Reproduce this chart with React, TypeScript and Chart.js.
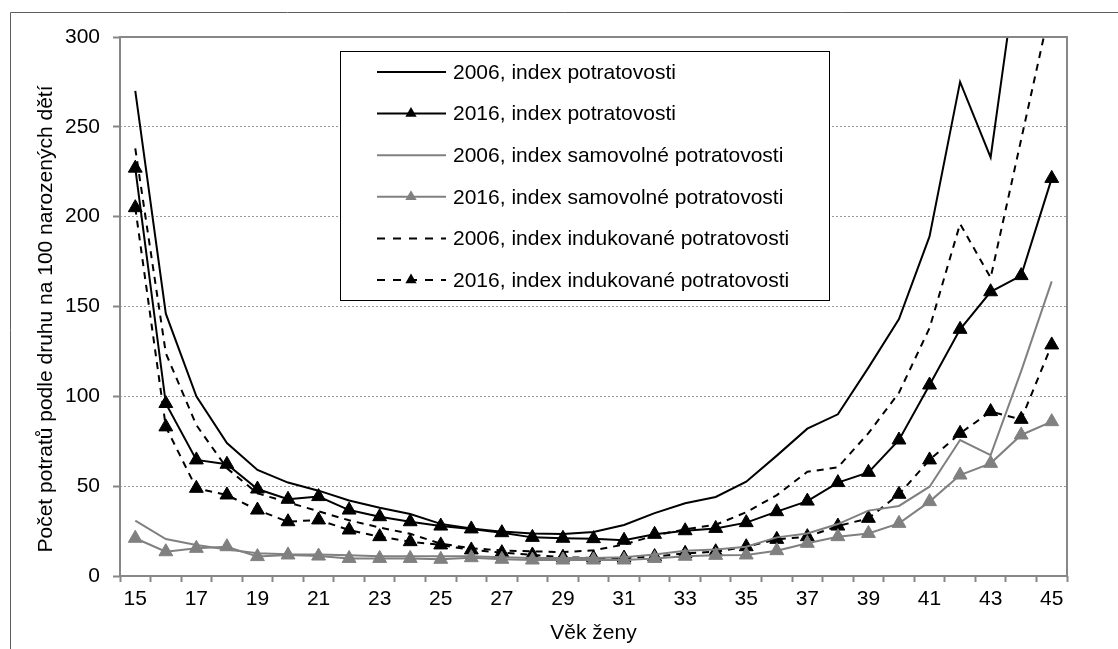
import React, { useEffect, useRef } from 'react';
import { Chart, registerables } from 'chart.js';

Chart.register(...registerables);

const ages = ['15','16','17','18','19','20','21','22','23','24','25','26','27','28','29','30','31','32','33','34','35','36','37','38','39','40','41','42','43','44','45'];

const total2006 = [270, 146, 100, 74, 59, 52, 47.5, 42, 38, 34.5, 29, 26.5, 24.7, 23.7, 23.4, 24.5, 28.4, 35, 40.5, 44, 52.5, 67, 82, 90, 116, 143, 189, 275, 233, 355, 420];
const total2016 = [227, 96, 64.6, 62.2, 48.4, 42.7, 44.2, 36.7, 33, 30.2, 27.8, 26.2, 24.1, 21.5, 21, 20.8, 19.9, 23.2, 25.2, 26.5, 29.7, 35.8, 41.7, 52, 57.7, 75.7, 106.3, 137.3, 158.2, 167.2, 221.3];
const spont2006 = [30.8, 20.6, 17.3, 14.8, 12.6, 12.1, 12, 11.5, 11, 11, 11, 11, 10.5, 10, 10, 10, 10.5, 12, 14, 14.8, 16.3, 21.5, 23.7, 28.9, 36.4, 39, 49.7, 75.7, 67.3, 114, 164];
const spont2016 = [21, 13.5, 15.4, 16.3, 10.8, 11.7, 11.1, 9.8, 9.8, 9.8, 9.3, 10.2, 9.3, 8.9, 8.9, 8.9, 8.9, 9.8, 11, 11.5, 11.7, 14.1, 18.2, 21.9, 23.7, 29.3, 41.4, 56.2, 62.7, 78.5, 85.9];
const induced2006 = [238, 124, 84, 60, 46, 41, 36, 31, 27, 23.5, 18, 15.5, 14.2, 13.7, 13.3, 14.3, 17.5, 22.5, 26, 28.5, 35.5, 45, 58, 60.5, 79.5, 102, 138, 196, 166, 243, 320];
const induced2016 = [205, 83, 48.8, 45.1, 36.7, 30.2, 31.2, 25.6, 21.9, 19.1, 17.3, 14.5, 13, 11.7, 10.5, 10, 10, 10.8, 12.6, 13.5, 16.3, 20.4, 21.9, 27.8, 32.1, 45.5, 64.6, 79.4, 91.5, 87.2, 128.6];

const yTicks = [0, 50, 100, 150, 200, 250, 300];

const seriesLabels = [
  '2006, index potratovosti',
  '2016, index potratovosti',
  '2006, index samovolné potratovosti',
  '2016, index samovolné potratovosti',
  '2006, index indukované potratovosti',
  '2016, index indukované potratovosti',
];

const yTitle = 'Počet potratů podle druhu na 100 narozených dětí';
const xTitle = 'Věk ženy';

const FONT = "'Liberation Sans', Arial, sans-serif";
const FSIZE = 21;
const GREY = '#808080';
const AXIS = '#878787';

const framePlugin = {
  id: 'framePlugin',
  beforeDraw(chart: any) {
    const ctx = chart.ctx;
    ctx.save();
    ctx.fillStyle = '#ffffff';
    ctx.fillRect(0, 0, chart.width, chart.height);
    ctx.strokeStyle = '#5e5e5e';
    ctx.lineWidth = 1;
    ctx.beginPath();
    ctx.moveTo(10.5, chart.height);
    ctx.lineTo(10.5, 12.5);
    ctx.lineTo(chart.width, 12.5);
    ctx.stroke();
    ctx.restore();
  },
  afterDraw(chart: any) {
    const ctx = chart.ctx;
    const a = chart.chartArea;
    ctx.save();
    ctx.strokeStyle = AXIS;
    ctx.lineWidth = 2;
    ctx.setLineDash([]);
    ctx.strokeRect(a.left, a.top, a.right - a.left, a.bottom - a.top);

    // y axis title
    ctx.save();
    ctx.translate(46, 319);
    ctx.rotate(-Math.PI / 2);
    ctx.font = FSIZE + 'px ' + FONT;
    ctx.fillStyle = '#000000';
    ctx.textAlign = 'center';
    ctx.textBaseline = 'middle';
    ctx.fillText(yTitle, 0, 0);
    ctx.restore();

    // legend
    const bx = 340.5, by = 51.5, bw = 489, bh = 249;
    ctx.fillStyle = '#ffffff';
    ctx.fillRect(bx, by, bw, bh);
    ctx.strokeStyle = '#000000';
    ctx.lineWidth = 1;
    ctx.strokeRect(bx, by, bw, bh);
    const ds = chart.data.datasets;
    ctx.font = FSIZE + 'px ' + FONT;
    ctx.textBaseline = 'middle';
    ctx.textAlign = 'left';
    for (let i = 0; i < ds.length; i++) {
      const d = ds[i];
      const y = 72 + i * 41.6;
      ctx.strokeStyle = d.borderColor;
      ctx.lineWidth = 2;
      ctx.setLineDash(d.borderDash && d.borderDash.length ? [8, 8] : []);
      ctx.beginPath();
      ctx.moveTo(377, y);
      ctx.lineTo(446, y);
      ctx.stroke();
      ctx.setLineDash([]);
      if (d.pointRadius > 0) {
        const r = 6.5;
        const cx = 411;
        ctx.fillStyle = d.pointBackgroundColor;
        ctx.beginPath();
        ctx.moveTo(cx, y - r);
        ctx.lineTo(cx + r * 0.866, y + r * 0.5);
        ctx.lineTo(cx - r * 0.866, y + r * 0.5);
        ctx.closePath();
        ctx.fill();
      }
      ctx.fillStyle = '#000000';
      ctx.fillText(d.label, 453, y + 1);
    }
    ctx.restore();
  },
};

function lineDs(label: string, data: number[], color: string, dashed: boolean, marker: boolean) {
  return {
    label,
    data,
    borderColor: color,
    backgroundColor: color,
    borderWidth: 2,
    borderDash: dashed ? [7, 6] : [],
    pointStyle: 'triangle',
    pointRadius: marker ? 8 : 0,
    pointHoverRadius: marker ? 8 : 0,
    pointBackgroundColor: color,
    pointBorderColor: color,
    pointBorderWidth: 1,
    tension: 0,
    fill: false,
  };
}

export default function App() {
  const ref = useRef<HTMLCanvasElement | null>(null);

  useEffect(() => {
    if (!ref.current) return;
    const chart = new Chart(ref.current, {
      type: 'line',
      data: {
        labels: ages,
        datasets: [
          lineDs(seriesLabels[0], total2006, '#000000', false, false),
          lineDs(seriesLabels[1], total2016, '#000000', false, true),
          lineDs(seriesLabels[2], spont2006, GREY, false, false),
          lineDs(seriesLabels[3], spont2016, GREY, false, true),
          lineDs(seriesLabels[4], induced2006, '#000000', true, false),
          lineDs(seriesLabels[5], induced2016, '#000000', true, true),
        ] as any,
      },
      options: {
        animation: false,
        responsive: false,
        devicePixelRatio: 1,
        layout: { padding: { left: 0, right: 51, top: 37, bottom: 0 } },
        plugins: {
          legend: { display: false },
          tooltip: { enabled: false },
          title: { display: false },
        },
        scales: {
          x: {
            type: 'category',
            offset: true,
            grid: {
              offset: true,
              drawOnChartArea: false,
              drawTicks: true,
              tickLength: 6,
              tickColor: AXIS,
              tickWidth: 2,
            },
            border: { display: false },
            ticks: {
              autoSkip: false,
              maxRotation: 0,
              minRotation: 0,
              padding: 5,
              color: '#000000',
              font: { family: FONT, size: FSIZE },
              callback: (_v: any, i: number) => (i % 2 === 0 ? ages[i] : ''),
            },
            title: {
              display: true,
              text: xTitle,
              color: '#000000',
              font: { family: FONT, size: FSIZE },
              padding: { top: 0, bottom: 3 },
            },
            afterFit: (s: any) => { s.height = 73; },
          },
          y: {
            min: 0,
            max: 300,
            afterBuildTicks: (s: any) => { s.ticks = yTicks.map((v) => ({ value: v })); },
            grid: {
              color: '#9a9a9a',
              lineWidth: 1,
              drawTicks: true,
              tickLength: 7,
              tickColor: AXIS,
              tickWidth: 2,
              tickBorderDash: [],
            },
            border: { display: false, dash: [2, 2] },
            ticks: {
              padding: 13,
              color: '#000000',
              font: { family: FONT, size: FSIZE },
            },
            title: { display: false },
            afterFit: (s: any) => { s.width = 120; },
          },
        },
      } as any,
      plugins: [framePlugin],
    });
    return () => chart.destroy();
  }, []);

  return (
    <div style={{ position: 'absolute', left: 0, top: 0, width: 1118, height: 649 }}>
      <canvas ref={ref} width={1118} height={649} style={{ display: 'block', width: 1118, height: 649 }} />
    </div>
  );
}
